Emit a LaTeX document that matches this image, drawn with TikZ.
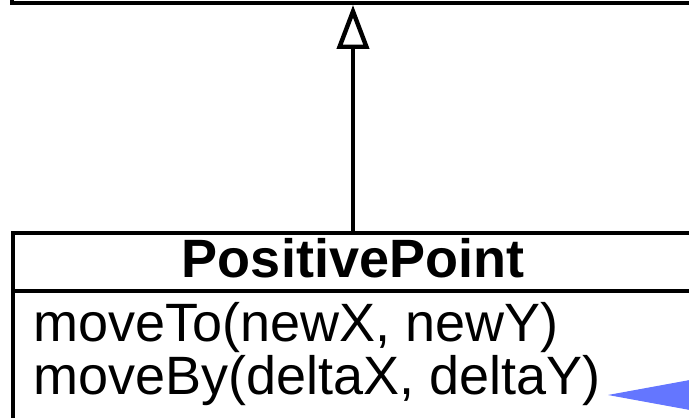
\documentclass[tikz,border=0pt]{standalone}
\usepackage{fontspec}
\setmainfont{Liberation Sans}
\usetikzlibrary{arrows.meta}
\definecolor{assocblue}{RGB}{100,118,255}
\tikzset{
  classbox/.style={draw=black, line width=4.4pt, fill=white, inner sep=0pt},
  member/.style={anchor=base west, inner sep=0pt, font=\fontsize{54pt}{60pt}\selectfont},
  classname/.style={anchor=base, inner sep=0pt, font=\fontsize{54pt}{60pt}\selectfont\bfseries},
  inherit/.style={draw=black, line width=4.4pt, -{Triangle[open, length=44pt, width=32pt, fill=white]}},
  assoc/.style={draw=assocblue, line width=1pt, -{Triangle[length=110pt, width=40pt, fill=assocblue]}}
}
\begin{document}
\begin{tikzpicture}[x=1pt, y=1pt]
  \useasboundingbox (0,0) rectangle (689,418);
  % parent class box (mostly outside the picture)
  \node[classbox, anchor=south west, minimum width=800pt, minimum height=120pt] (parent) at (10,413) {};
  % PositivePoint class box
  \node[classbox, anchor=north west, minimum width=800pt, minimum height=300pt] (child) at (11,187) {};
  \coordinate (divL) at (11,127);
  \coordinate (divR) at (811,127);
  \draw[line width=4.4pt] (divL) -- (divR);
  \node[classname] (title) at (353,140) {PositivePoint};
  \node[member] (m1) at (33,76) {moveTo(newX, newY)};
  \node[member] (m2) at (33,23) {moveBy(deltaX, deltaY)};
  % generalization
  \draw[inherit] (title |- child.north) -- (title |- parent.south);
  % association arriving from the right
  \coordinate (src) at (900,23);
  \coordinate (tip) at (608,23);
  \draw[assoc] (src) -- (tip);
\end{tikzpicture}
\end{document}
